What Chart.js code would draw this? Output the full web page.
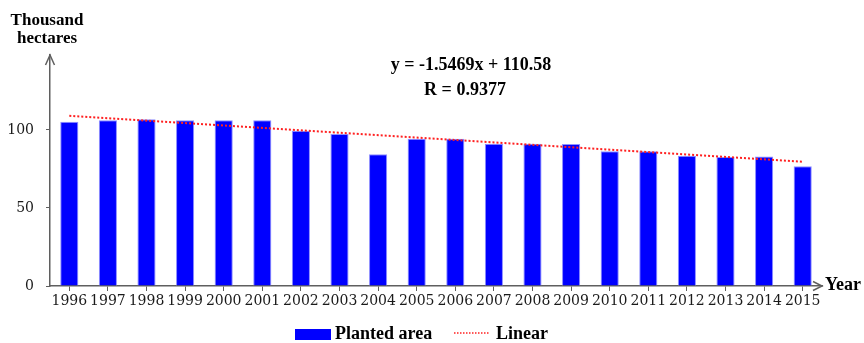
<!DOCTYPE html>
<html>
<head>
<meta charset="utf-8">
<title>Planted area</title>
<script src="https://cdn.jsdelivr.net/npm/chart.js@4.4.1/dist/chart.umd.min.js"></script>
<style>
  html, body { margin: 0; padding: 0; background: #ffffff; }
  #wrap { width: 864px; height: 343px; position: relative; }
</style>
</head>
<body>
<div id="wrap"><canvas id="chart" width="864" height="343"></canvas></div>
<script>
// Planted area per year, thousand hectares
const years = ['1996', '1997', '1998', '1999', '2000', '2001', '2002', '2003', '2004', '2005',
               '2006', '2007', '2008', '2009', '2010', '2011', '2012', '2013', '2014', '2015'];
const plantedArea = [105.3, 106.2, 106.8, 106.2, 106.2, 106.2, 99.4, 97.4, 84.4, 94.4,
                     94.4, 91.2, 91.2, 91.0, 86.3, 86.3, 83.5, 82.7, 82.9, 76.7];

// Linear fit y = -1.5469x + 110.58 (x = 1 for 1996 ... 20 for 2015), evaluated at both ends
const trendEquation = 'y = -1.5469x + 110.58';
const trendR = 'R = 0.9377';
const trendEnds = [109.03, 79.64];

const yTicks = [0, 50, 100];
const yMax = 148;

const trendData = years.map((_, i) =>
  i === 0 ? trendEnds[0] : (i === years.length - 1 ? trendEnds[1] : null));

const BOLD = 'bold 18px "Liberation Serif", "Times New Roman", serif';
const AXIS_COLOR = '#5f5f5f';

// Axis arrows, axis captions, regression text and legend
const decorations = {
  id: 'decorations',
  afterDraw(chart) {
    const { ctx, chartArea: a } = chart;
    ctx.save();
    ctx.strokeStyle = AXIS_COLOR;
    ctx.lineWidth = 1.5;
    // y-axis arrow head
    ctx.beginPath();
    ctx.moveTo(a.left - 4.5, a.top + 10);
    ctx.lineTo(a.left, a.top);
    ctx.lineTo(a.left + 4.5, a.top + 10);
    ctx.stroke();
    // x-axis arrow head
    ctx.beginPath();
    ctx.moveTo(a.right - 9, a.bottom - 4.5);
    ctx.lineTo(a.right, a.bottom);
    ctx.lineTo(a.right - 9, a.bottom + 4.5);
    ctx.stroke();

    ctx.fillStyle = '#000000';
    ctx.textBaseline = 'alphabetic';
    // y-axis caption
    ctx.font = 'bold 17px "Liberation Serif", "Times New Roman", serif';
    ctx.textAlign = 'center';
    ctx.fillText('Thousand', 47, 25);
    ctx.fillText('hectares', 47, 43);
    // x-axis caption
    ctx.font = BOLD;
    ctx.textAlign = 'left';
    ctx.fillText('Year', a.right + 3, a.bottom + 4);
    // regression text
    ctx.textAlign = 'center';
    ctx.fillText(trendEquation, 471, 70);
    ctx.fillText(trendR, 465, 95);

    // legend
    const bars = chart.data.datasets[0];
    const line = chart.data.datasets[1];
    const ly = 339;
    ctx.fillStyle = bars.backgroundColor;
    ctx.fillRect(295, 329, 36, 11);
    ctx.fillStyle = '#000000';
    ctx.textAlign = 'left';
    ctx.fillText(bars.label, 335, ly);
    ctx.strokeStyle = line.borderColor;
    ctx.lineWidth = 1.5;
    ctx.setLineDash([1.5, 1.5]);
    ctx.beginPath();
    ctx.moveTo(454, 333);
    ctx.lineTo(490, 333);
    ctx.stroke();
    ctx.setLineDash([]);
    ctx.fillText(line.label, 496, ly);
    ctx.restore();
  }
};

const tickFont = { family: '"DejaVu Serif", serif', size: 14 };

new Chart(document.getElementById('chart'), {
  data: {
    labels: years,
    datasets: [
      {
        type: 'bar',
        label: 'Planted area',
        data: plantedArea,
        backgroundColor: '#0000ff',
        borderColor: '#8f8fff',
        borderWidth: 1,
        categoryPercentage: 1,
        barPercentage: 0.47,
        order: 2
      },
      {
        type: 'line',
        label: 'Linear',
        data: trendData,
        spanGaps: true,
        borderColor: '#ff2020',
        borderWidth: 2,
        borderDash: [2, 2],
        pointRadius: 0,
        fill: false,
        order: 1
      }
    ]
  },
  options: {
    responsive: false,
    devicePixelRatio: 1,
    animation: false,
    layout: { padding: { left: 0, right: 42, top: 55, bottom: 0 } },
    plugins: { legend: { display: false }, tooltip: { enabled: false } },
    scales: {
      x: {
        type: 'category',
        offset: true,
        grid: { drawOnChartArea: false, drawTicks: true, tickLength: 5, offset: false, color: AXIS_COLOR, lineWidth: 1 },
        border: { display: true, color: AXIS_COLOR, width: 1.5 },
        ticks: { font: tickFont, color: '#1a1a1a', padding: 2, maxRotation: 0, minRotation: 0, autoSkip: false },
        afterFit(scale) { scale.height = 57; }
      },
      y: {
        type: 'linear',
        min: 0,
        max: yMax,
        afterBuildTicks(scale) { scale.ticks = yTicks.map(v => ({ value: v })); },
        grid: { drawOnChartArea: false, drawTicks: true, tickLength: 4, color: AXIS_COLOR, lineWidth: 1 },
        border: { display: true, color: AXIS_COLOR, width: 1.5 },
        ticks: { font: tickFont, color: '#1a1a1a', padding: 12 },
        afterFit(scale) { scale.width = 50; }
      }
    }
  },
  plugins: [decorations]
});
</script>
</body>
</html>
